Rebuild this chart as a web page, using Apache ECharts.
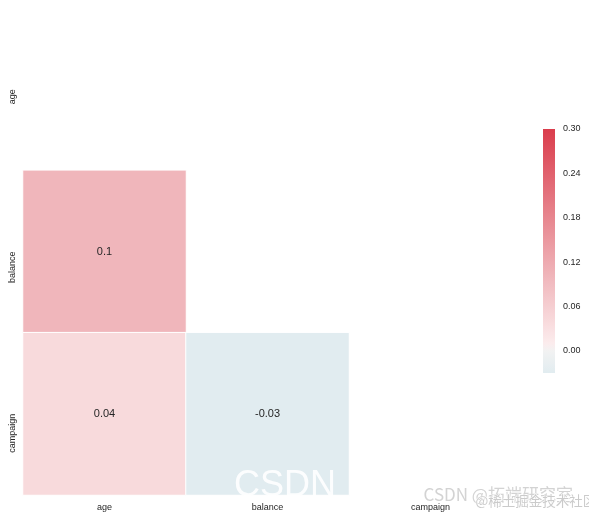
<!DOCTYPE html>
<html><head><meta charset="utf-8">
<script src="https://cdn.jsdelivr.net/npm/echarts@6/dist/echarts.min.js"></script>
<style>html,body{margin:0;padding:0;background:#fff}#c{width:589px;height:519px}</style>
</head><body><div id="c"></div>
<script>
// ---- data ----
var xCategories = ['age', 'balance', 'campaign'];
var yCategories = ['age', 'balance', 'campaign'];
// lower triangle (diagonal masked): [xIndex, yIndex, value]
var cellX = [0, 0, 1];
var cellY = [1, 2, 2];
var cellValues = [0.1, 0.04, -0.03];
var colorbarTicks = [0.00, 0.06, 0.12, 0.18, 0.24, 0.30];
var colorMin = -0.03, colorMax = 0.30;

// ---- colour map (styling) ----
var anchors = [
  [-0.03, [225, 236, 240]],
  [0.00, [242, 242, 242]],
  [0.01, [251, 236, 237]],
  [0.04, [248, 218, 220]],
  [0.10, [240, 182, 187]],
  [0.30, [218, 61, 76]]
];
function cmap(v) {
  for (var i = 0; i < anchors.length - 1; i++) {
    var a = anchors[i], b = anchors[i + 1];
    if (v <= b[0] || i === anchors.length - 2) {
      var t = Math.max(0, Math.min(1, (v - a[0]) / (b[0] - a[0])));
      var c = a[1].map(function (x, k) { return Math.round(x + (b[1][k] - x) * t); });
      return 'rgb(' + c.join(',') + ')';
    }
  }
}
var N = 66;
var stops = [], gradStops = [];
for (var s = 0; s <= N; s++) {
  var col = cmap(colorMin + (colorMax - colorMin) * s / N);
  stops.push(col);
  gradStops.push({offset: 1 - s / N, color: col});
}

var data = cellValues.map(function (v, i) { return [cellX[i], cellY[i], v]; });
var FONT = '"Liberation Sans", Arial, sans-serif';
var TXT = '#262626';

var chart = echarts.init(document.getElementById('c'), null, {renderer: 'canvas'});
chart.setOption({
  backgroundColor: '#ffffff',
  animation: false,
  grid: [
    {left: 23, right: 77, top: 8, bottom: 24},
    {left: 543, width: 12, top: 129, height: 244}
  ],
  xAxis: [
    {type: 'category', gridIndex: 0, data: xCategories, position: 'bottom',
     axisLine: {show: false}, axisTick: {show: false}, splitLine: {show: false},
     axisLabel: {color: TXT, fontSize: 9, fontFamily: FONT, margin: 8}},
    {type: 'value', gridIndex: 1, show: false, min: 0, max: 1}
  ],
  yAxis: [
    {type: 'category', gridIndex: 0, data: yCategories, inverse: true,
     axisLine: {show: false}, axisTick: {show: false}, splitLine: {show: false},
     axisLabel: {color: TXT, fontSize: 9, fontFamily: FONT, rotate: 90, align: 'right', verticalAlign: 'middle', margin: 10}},
    {type: 'value', gridIndex: 1, position: 'right', min: colorMin, max: colorMax,
     axisLine: {show: false}, axisTick: {show: false}, splitLine: {show: false},
     axisLabel: {color: TXT, fontSize: 9, fontFamily: FONT, margin: 8,
       customValues: colorbarTicks, showMinLabel: true, showMaxLabel: true,
       formatter: function (v) { return v.toFixed(2); }}}
  ],
  visualMap: {
    type: 'continuous', show: false, seriesIndex: 0, dimension: 2,
    min: colorMin, max: colorMax, inRange: {color: stops}
  },
  series: [{
    type: 'heatmap', xAxisIndex: 0, yAxisIndex: 0, data: data,
    itemStyle: {borderColor: '#ffffff', borderWidth: 1},
    label: {show: true, color: TXT, fontSize: 11, fontFamily: FONT,
      formatter: function (p) { return String(p.value[2]); }},
    emphasis: {disabled: true}
  }],
  graphic: [
    {type: 'rect', left: 543, top: 129, z: 5,
     shape: {width: 12, height: 244},
     style: {fill: new echarts.graphic.LinearGradient(0, 0, 0, 1, gradStops)}},
    {type: 'text', left: 234, top: 468, z: 100,
     style: {text: 'CSDN', fill: 'rgba(255,255,255,0.9)', font: '36px ' + FONT}},
    {type: 'text', left: 423, top: 486, z: 100,
     style: {text: 'CSDN @拓端研究室', fill: 'rgba(200,200,200,0.8)', stroke: '#fff', lineWidth: 1, font: '17px "Noto Sans CJK SC", ' + FONT}},
    {type: 'text', left: 475, top: 494, z: 100,
     style: {text: '@稀土掘金技术社区', fill: 'rgba(190,190,190,0.8)', stroke: '#fff', lineWidth: 1, font: '13.5px "Noto Sans CJK SC", ' + FONT}}
  ]
});
</script></body></html>
